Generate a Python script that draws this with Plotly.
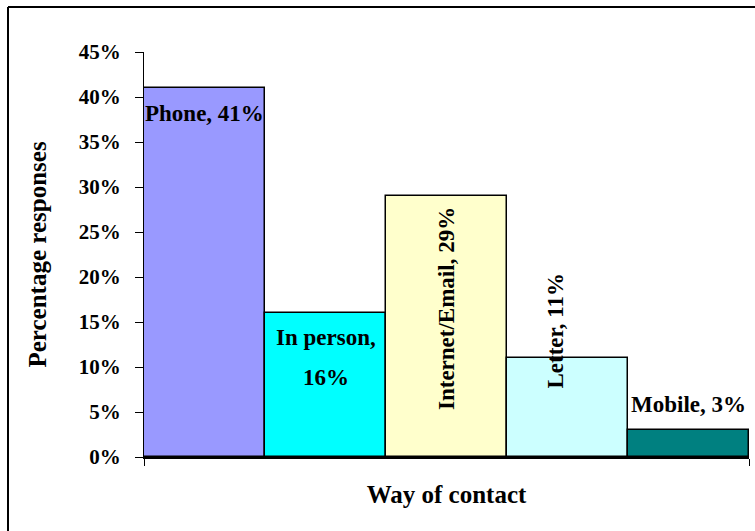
import plotly.graph_objects as go

# Survey results: preferred way of contact
categories = ["Phone", "In person", "Internet/Email", "Letter", "Mobile"]
shares = [41, 16, 29, 11, 3]
bar_colors = ["#9999FF", "#00FFFF", "#FFFFCC", "#CCFFFF", "#008080"]
y_ticks = [0, 5, 10, 15, 20, 25, 30, 35, 40, 45]
y_tick_text = [f"{v}%" for v in y_ticks]

FONT = "Liberation Serif"
W, H = 755, 531
L, R, T, B = 144, 6, 52, 74
PW, PH = W - L - R, H - T - B

xs = list(range(len(categories)))

fig = go.Figure(go.Bar(
    x=xs, y=shares, width=1.0,
    marker=dict(color=bar_colors, line=dict(color="black", width=1.5)),
    hoverinfo="skip",
))

label_font = dict(family=FONT, size=23, color="black", weight="bold")
title_font = dict(family=FONT, size=25, color="black", weight="bold")

# data labels: (text, angle, yanchor, xshift, yshift)
label_style = [
    ("Phone, {v}%", 0, "top", 0, -11),
    ("In person,", 0, "top", 0, -10),
    ("{v}%", 0, "top", 0, -50),
    ("Internet/Email, {v}%", -90, "top", 0, -9),
    ("Letter, {v}%", -90, "middle", -13, 27),
    ("Mobile, {v}%", 0, "bottom", 0, 11),
]
bar_of_label = [0, 1, 1, 2, 3, 4]
for (fmt, ang, ya, xs_, ys_), i in zip(label_style, bar_of_label):
    fig.add_annotation(
        x=xs[i], y=shares[i], text=fmt.format(v=shares[i]), showarrow=False,
        textangle=ang, xanchor="center", yanchor=ya, xshift=xs_, yshift=ys_,
        font=label_font,
    )

# y axis title
fig.add_annotation(
    x=-107 / PW, xref="paper", xanchor="center",
    y=0.5, yref="paper", text="Percentage responses", showarrow=False, textangle=-90,
    font=title_font,
)

# chart frame (top and left edges fall inside the window)
fx0 = (8 - L) / PW
fy1 = (H - 7 - B) / PH
fig.add_shape(type="line", xref="paper", yref="paper", x0=fx0, x1=fx0, y0=-0.3, y1=fy1,
              line=dict(color="black", width=2))
fig.add_shape(type="line", xref="paper", yref="paper", x0=fx0, x1=1.2, y0=fy1, y1=fy1,
              line=dict(color="black", width=2))

fig.update_layout(
    width=W, height=H,
    margin=dict(l=L, r=R, t=T, b=B, autoexpand=False),
    paper_bgcolor="white", plot_bgcolor="white",
    showlegend=False, bargap=0,
    xaxis=dict(range=[-0.5, 4.5], showgrid=False, zeroline=False,
               showline=True, linecolor="black", linewidth=1.5,
               tickvals=[-0.5, 4.5], ticktext=["", ""], ticks="outside",
               ticklen=7, tickcolor="black", tickwidth=1,
               title=dict(text="Way of contact", font=title_font, standoff=18)),
    yaxis=dict(range=[0, 45], showgrid=False, zeroline=False,
               showline=True, linecolor="black", linewidth=1,
               tickvals=y_ticks, ticktext=y_tick_text, ticks="outside",
               ticklen=8, tickcolor="black", tickwidth=1, ticklabelstandoff=10,
               tickfont=dict(family=FONT, size=21, color="black", weight="bold")),
)

fig.write_html("out.html")
